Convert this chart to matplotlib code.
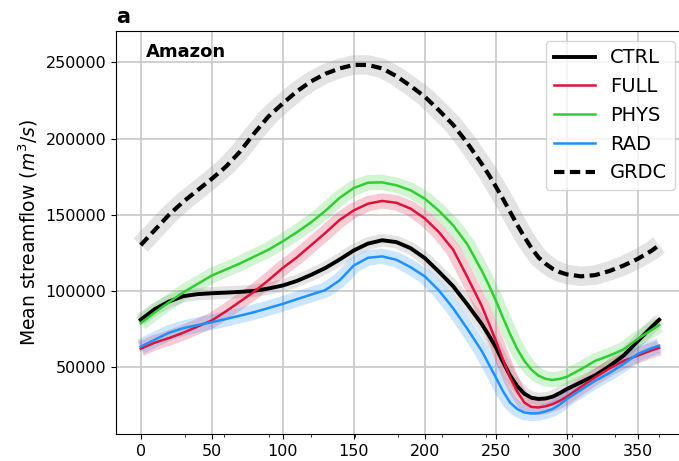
import numpy as np
import matplotlib.pyplot as plt

# day of year
days = [0, 10, 20, 30, 40, 50, 60, 70, 80, 90, 100, 110, 120, 130, 140, 150, 160, 170, 180,
        190, 200, 210, 220, 230, 240, 245, 250, 255, 260, 265, 270, 275, 280, 285, 290, 295,
        300, 310, 320, 330, 340, 350, 360, 365]

ctrl = [81000, 88000, 93000, 96500, 97800, 98400, 98800, 99300, 100000, 101500, 103500, 106500,
        110500, 115000, 120500, 126500, 131000, 133200, 132000, 128000, 121500, 112500, 103000,
        91000, 78300, 71000, 63000, 53500, 44500, 37500, 32500, 29800, 29000, 29300, 30500, 32800,
        35500, 40000, 44500, 50500, 57500, 67000, 76500, 81000]
full = [62000, 66000, 69000, 72500, 76500, 80500, 86500, 93000, 99500, 107000, 115000, 122000,
        130000, 138000, 146500, 152800, 157200, 159000, 157800, 154000, 147500, 138500, 127000,
        109000, 90300, 79000, 67300, 55000, 43200, 34000, 26700, 23800, 23400, 24200, 25600, 27800,
        30500, 37000, 43200, 49000, 54000, 57500, 61000, 62500]
phys = [78700, 85900, 92500, 99000, 104500, 110000, 114000, 118000, 122500, 127000, 132500, 138500,
        145000, 152500, 161000, 167500, 171000, 171200, 169300, 166000, 160500, 152500, 143000,
        130500, 113400, 104000, 93700, 82500, 71700, 62000, 54100, 48300, 44300, 42200, 41500, 42200,
        43500, 48500, 54000, 57500, 61500, 68500, 74500, 77500]
rad = [63300, 68000, 72500, 75500, 77500, 79400, 81500, 83700, 86000, 88700, 91400, 94500, 97500,
       100500, 106800, 116600, 121700, 122600, 120400, 115500, 109500, 100200, 88500, 75000, 60700,
       52000, 43200, 34200, 26700, 22400, 20100, 19500, 19700, 20800, 22400, 25300,
       29000, 35000, 41000, 46000, 52000, 58600, 62500, 64000]
grdc = [130000, 140000, 150000, 158500, 166000, 173500, 181500, 191500, 203500, 214500, 223000,
        231000, 237500, 242500, 246000, 248300, 248300, 246000, 241000, 234500, 227500, 218500,
        209000, 197000, 183500, 176300, 168500, 160500, 152000, 143500, 135500, 128300, 122000,
        117800, 114500, 112300, 110800, 109500, 110300, 113000, 116600, 121000, 126500, 130000]

month_edges = [31, 59, 90, 120, 151, 181, 212, 243, 273, 304, 334, 365]

fig = plt.figure(figsize=(6.79, 4.61), dpi=100)
ax = fig.add_axes([0.1708, 0.0586, 0.838, 0.8742])

# shaded spread
ax.plot(days, grdc, color='0.6', alpha=0.27, lw=14, solid_capstyle='butt')
ax.plot(days, ctrl, color='0.6', alpha=0.27, lw=9, solid_capstyle='butt')
ax.plot(days, full, color='#DC143C', alpha=0.22, lw=11, solid_capstyle='butt')
ax.plot(days, phys, color='#32CD32', alpha=0.22, lw=11, solid_capstyle='butt')
ax.plot(days, rad, color='#1E90FF', alpha=0.22, lw=11, solid_capstyle='butt')

ax.plot(days, ctrl, color='black', lw=2.8, label='CTRL')
ax.plot(days, full, color='#DC143C', lw=1.8, label='FULL')
ax.plot(days, phys, color='#32CD32', lw=1.8, label='PHYS')
ax.plot(days, rad, color='#1E90FF', lw=1.8, label='RAD')
ax.plot(days, grdc, color='black', lw=3, dashes=(2.5, 1.3), label='GRDC')

ax.set_xlim(-17.4, 383.2)
ax.set_ylim(6000, 270600)
ax.set_xticks(range(0, 351, 50))
ax.set_xticks(month_edges, minor=True)
ax.set_yticks([50000, 100000, 150000, 200000, 250000])
ax.tick_params(labelsize=11.5)
ax.tick_params(which='minor', length=2)
ax.grid(True, which='major', color='#cccccc', lw=1.3)
ax.set_axisbelow(True)

ax.set_ylabel('Mean streamflow ($m^3/s$)', fontsize=13.5)
ax.set_title('a', loc='left', fontweight='bold', fontsize=15)
ax.text(0.052, 0.936, 'Amazon', transform=ax.transAxes, fontsize=13, fontweight='bold')
ax.legend(loc='upper right', fontsize=14, handlelength=2.1)

fig.savefig('out.png', dpi=100)
